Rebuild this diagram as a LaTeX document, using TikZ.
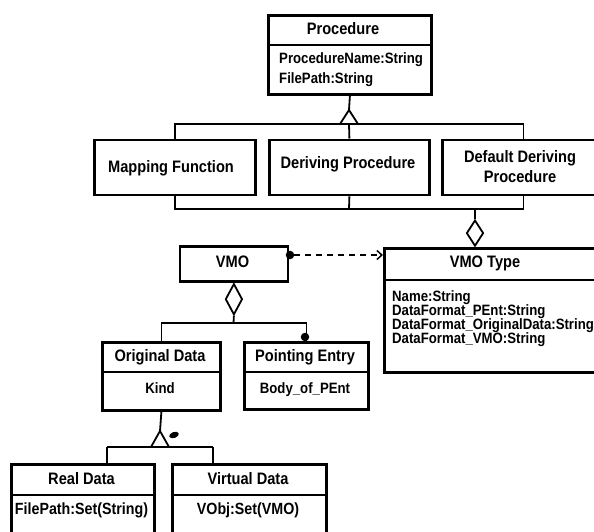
\documentclass[tikz,border=0pt]{standalone}
\usepackage{fontspec}
\setmainfont{Liberation Sans}[FakeStretch=0.88]
\usetikzlibrary{shapes.geometric,arrows.meta}
\tikzset{
  box/.style={draw, line width=2.8pt, inner sep=0pt, anchor=north west},
  divl/.style={line width=2.2pt},
  conn/.style={line width=1.8pt},
  ttl/.style={font=\bfseries\fontsize{16.6}{20}\selectfont, inner sep=0pt, text height=11.5pt, text depth=3.5pt},
  attr/.style={font=\bfseries\fontsize{15}{16}\selectfont, inner sep=0pt, text height=10.5pt, text depth=3.5pt},
  attrb/.style={font=\bfseries\fontsize{16.2}{17}\selectfont, inner sep=0pt, text height=11pt, text depth=3.5pt},
  dia/.style={diamond, draw, line width=1.8pt, fill=white, inner sep=0pt, minimum width=17pt},
  dot/.style={circle, fill, inner sep=0pt, minimum size=8.5pt},
}
\begin{document}
\begin{tikzpicture}[x=1pt,y=-1pt]
\useasboundingbox (0,0) rectangle (594,531);
\clip (0,0) rectangle (594,531);
% ---------- Procedure ----------
\node[box, minimum width=163pt, minimum height=79pt] (proc) at (267,14) {};
\draw[divl] (267,45) -- (430,45);
\node[ttl] (procT) at (343,30) {Procedure};
\node[attr, anchor=west] (procA1) at (279,60) {ProcedureName:String};
\node[attr, anchor=west] (procA2) at (279,80) {FilePath:String};
% ---------- three procedures ----------
\node[box, minimum width=161pt, minimum height=55pt] (mf) at (93,138.5) {};
\node[ttl] (mfT) at (171,168) {Mapping Function};
\node[box, minimum width=160pt, minimum height=55pt] (dp) at (268,138.5) {};
\node[ttl] (dpT) at (348,164) {Deriving Procedure};
\node[box, minimum width=162pt, minimum height=55pt] (dd) at (441,138.5) {};
\node[ttl, align=center, text height=, text depth=] (ddT) at (520,166.5) {Default Deriving\\Procedure};
% generalisation from Procedure
\coordinate (gapex) at (349,110);
\coordinate (gbus) at (349,124);
\draw[conn] (proc.south) -- (gapex);
\draw[conn, fill=white] (gapex) -- (340,124) -- (358,124) -- cycle;
\draw[conn] (mf.north) |- (gbus) -| (dd.north);
\draw[conn] (gbus) -- (dp.north);
% bottom bus
\coordinate (bbus) at (349,209);
\draw[conn] (mf.south) |- (bbus) -| (dd.south);
\draw[conn] (dp.south) -- (bbus);
% ---------- VMO Type ----------
\node[box, minimum width=220pt, minimum height=124pt] (vt) at (383,247) {};
\draw[divl] (383,280) -- (603,280);
\node[ttl] (vtT) at (485,263) {VMO Type};
\node[attr, anchor=west] (vtA1) at (392,298) {Name:String};
\node[attr, anchor=west] (vtA2) at (392,312) {DataFormat\_PEnt:String};
\node[attr, anchor=west] (vtA3) at (392,326) {DataFormat\_OriginalData:String};
\node[attr, anchor=west] (vtA4) at (392,340) {DataFormat\_VMO:String};
\node[dia, minimum height=26pt, anchor=south] (d1) at (475,247) {};
\draw[conn] (d1.north) -- (d1.north |- bbus);
% ---------- VMO ----------
\node[box, minimum width=108pt, minimum height=35pt] (vmo) at (178.5,245) {};
\node[ttl] (vmoT) at (232.5,263) {VMO};
\node[dot] (vdot) at (290,255) {};
\draw[conn, dashed, dash pattern=on 6pt off 5pt, -{Straight Barb[length=5pt,width=9pt,line width=1.5pt]}] (vdot.east) -- (vt.west |- vdot);
\node[dia, minimum height=31pt, anchor=north] (d2) at (vmo.south) {};
% ---------- Original Data / Pointing Entry ----------
\node[box, minimum width=118pt, minimum height=68pt] (od) at (101,341) {};
\draw[divl] (101,372) -- (219,372);
\node[ttl] (odT) at (160,357) {Original Data};
\node[attr] (odA) at (160,390) {Kind};
\node[box, minimum width=124pt, minimum height=67pt] (pe) at (243,341) {};
\draw[divl] (243,372) -- (367,372);
\node[ttl] (peT) at (305,357) {Pointing Entry};
\node[attr] (peA) at (305,390) {Body\_of\_PEnt};
\coordinate (abus) at (233.5,323);
\draw[conn] (d2.south) -- (abus);
\draw[conn] (od.north) |- (abus) -| (pe.north);
\node[dot] (pdot) at (305,337) {};
% ---------- Real Data / Virtual Data ----------
\node[box, minimum width=143pt, minimum height=90pt] (rd) at (10,463) {};
\draw[divl] (10,495) -- (153,495);
\node[ttl] (rdT) at (81.5,480) {Real Data};
\node[attrb] (rdA) at (81.5,511) {FilePath:Set(String)};
\node[box, minimum width=154pt, minimum height=90pt] (vd) at (171,463) {};
\draw[divl] (171,495) -- (325,495);
\node[ttl] (vdT) at (248,480) {Virtual Data};
\node[attrb] (vdA) at (248,511) {VObj:Set(VMO)};
\coordinate (lapex) at (160,431);
\coordinate (lbus) at (160,447);
\coordinate (lbl) at (107,447);
\coordinate (lbr) at (213,447);
\draw[conn] (od.south) -- (lapex);
\draw[conn, fill=white] (lapex) -- (151,447) -- (169,447) -- cycle;
\draw[conn] (lbl) -- (lbr);
\draw[conn] (lbl) -- (lbl |- rd.north);
\draw[conn] (lbr) -- (lbr |- vd.north);
\node[ellipse, fill, inner sep=0pt, minimum width=10pt, minimum height=6pt, rotate=20] (blob) at (174,435) {};
\end{tikzpicture}
\end{document}
